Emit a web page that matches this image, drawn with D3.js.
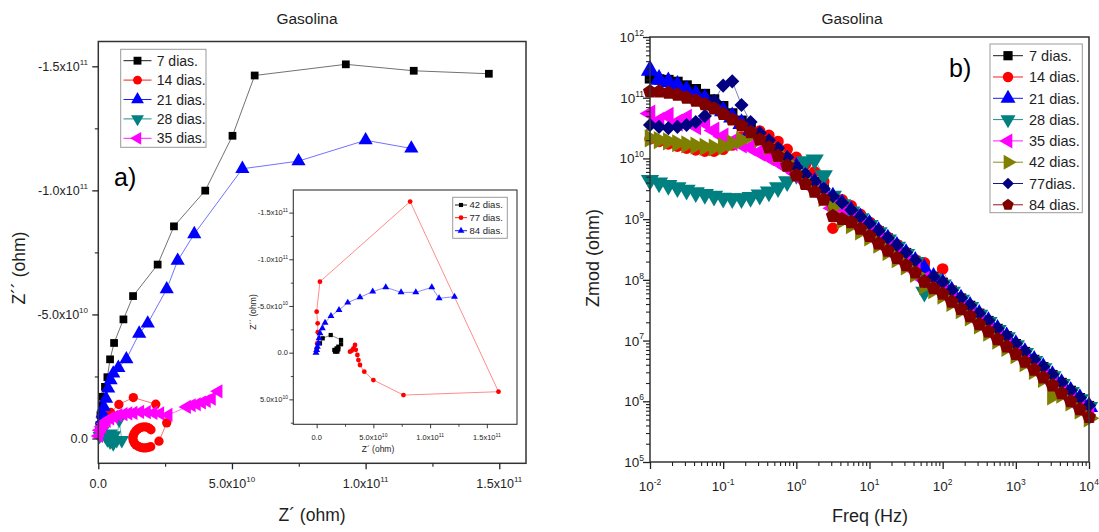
<!DOCTYPE html>
<html><head><meta charset="utf-8">
<script src="https://cdn.jsdelivr.net/npm/d3@7"></script>
<style>body{margin:0;background:#fff;} text{font-family:"Liberation Sans",Arial,sans-serif;}</style>
</head><body><svg id="c" width="1099" height="532"></svg>
<script>
// ---------- DATA: panel a) Nyquist (values in units of 1e10 ohm) ----------
const UNIT = 1e10;
const nyqNames = ["7 dias.", "14 dias.", "21 dias.", "28 dias.", "35 dias."];
const d7x  = [0.02,0.04,0.08,0.13,0.16,0.25,0.34,0.44,0.59,0.94,1.30,2.22,2.83,4.00,5.02,5.85,9.26,11.80,14.61];
const d7y  = [-0.20,-0.54,-0.94,-1.34,-1.68,-2.08,-2.47,-3.19,-3.85,-4.80,-5.74,-7.01,-8.55,-9.99,-12.20,-14.63,-15.08,-14.82,-14.70];
const d14x = [0.10,0.20,0.30,0.46,0.77,1.31,2.15,2.56,2.27,1.96,1.87,1.78,1.68,1.59,1.50,1.41,1.35,1.31,1.29,1.31,1.35,1.41,1.48,1.56,1.65,1.75,1.84,1.91,1.97];
const d14y = [-0.20,-0.45,-0.75,-1.05,-1.37,-1.65,-1.38,-0.63,0.11,0.33,0.36,0.38,0.38,0.36,0.32,0.26,0.18,0.09,-0.02,-0.12,-0.22,-0.31,-0.38,-0.43,-0.46,-0.47,-0.45,-0.41,-0.35];
const d21x = [0.09,0.10,0.13,0.16,0.21,0.29,0.37,0.46,0.56,0.75,1.05,1.53,1.85,2.56,2.97,3.59,5.39,7.49,10.00,11.71];
const d21y = [-0.20,-0.47,-0.74,-1.01,-1.27,-1.61,-2.02,-2.35,-2.62,-2.85,-3.20,-4.23,-4.64,-6.02,-7.17,-8.24,-10.87,-11.18,-12.02,-11.69];
const d28x = [0.05,0.15,0.25,0.34,0.44,0.56,0.46,0.59,0.69,0.78,0.88];
const d28y = [-0.10,-0.30,-0.13,0.04,0.13,0.20,-0.20,-0.13,0.07,-0.75,0.07];
const d35x = [0.02,0.06,0.13,0.21,0.31,0.44,0.59,0.75,0.94,1.12,1.31,1.56,1.81,2.06,2.31,2.62,3.31,3.49,3.68,3.87,4.05,4.24,4.49];
const d35y = [-0.10,-0.33,-0.47,-0.60,-0.71,-0.81,-0.87,-0.94,-0.98,-1.01,-1.03,-1.07,-1.06,-1.03,-1.01,-0.95,-1.27,-1.34,-1.38,-1.45,-1.52,-1.61,-1.90];

// inset (units of 1e10 ohm)
const insetNames = ["42 dias.", "77 dias.", "84 dias."];
const i42x = [0.00,0.29,0.53,1.24,2.15,2.15,1.91,1.76,1.56,1.62,1.82,1.91,1.70,1.80];
const i42y = [-0.29,-1.00,-1.54,-1.89,-1.36,-0.90,-0.64,-0.46,-0.29,-0.11,-0.11,-0.36,-0.30,-0.25];
const i77x = [0.05,0.10,0.09,0.00,0.29,8.24,16.03,7.65,5.00,4.20,3.82,3.68,3.59,3.45,3.38,3.24,3.09,2.94];
const i77y = [-1.00,-2.20,-3.14,-4.39,-7.60,-16.18,4.18,4.54,2.93,2.04,1.32,0.79,0.25,-0.30,-0.82,-0.46,-0.21,-0.11];
const i84x = [-0.06,0.00,0.06,0.15,0.21,0.29,0.50,0.74,1.26,1.97,2.74,3.82,4.94,6.09,7.44,8.74,10.15,10.79,12.15];
const i84y = [0.00,-0.29,-0.64,-1.00,-1.54,-2.07,-2.61,-3.21,-3.93,-4.57,-5.36,-5.93,-6.54,-7.00,-6.46,-6.46,-7.00,-5.82,-6.00];

// tick labels panel a)
const aXTicks = [0, 5e10, 1e11, 1.5e11];
const aXTickLabels = [["0.0",""],["5.0x10","10"],["1.0x10","11"],["1.5x10","11"]];
const aXMinor = [2.5e10, 7.5e10, 1.25e11];
const aYTicks = [0, -5e10, -1e11, -1.5e11];
const aYTickLabels = [["0.0",""],["-5.0x10","10"],["-1.0x10","11"],["-1.5x10","11"]];
const aYMinor = [-2.5e10, -7.5e10, -1.25e11];
const inXTicks = [0, 5e10, 1e11, 1.5e11];
const inXTickLabels = [["0.0",""],["5.0x10","10"],["1.0x10","11"],["1.5x10","11"]];
const inXMinor = [2.5e10, 7.5e10, 1.25e11];
const inYTicks = [5e10, 0, -5e10, -1e11, -1.5e11];
const inYTickLabels = [["5.0x10","10"],["0.0",""],["-5.0x10","10"],["-1.0x10","11"],["-1.5x10","11"]];
const inYMinor = [7.5e10, 2.5e10, -2.5e10, -7.5e10, -1.25e11];

// ---------- DATA: panel b) Bode |Z| (log10 of ohm) ----------
const freq = [0.01,0.0133,0.0178,0.0237,0.0316,0.0422,0.0562,0.075,
  0.1,0.133,0.178,0.237,0.316,0.422,0.562,0.75,
  1,1.33,1.78,2.37,3.16,4.22,5.62,7.5,
  10,13.3,17.8,23.7,31.6,42.2,56.2,75,
  100,133,178,237,316,422,562,750,
  1000,1330,1780,2370,3160,4220,5620,7500,10000];
const bodeNames = ["7 dias.","14 dias.","21 dias.","28 dias.","35 dias.","42 dias.","77dias.","84 dias."];
const z7  = [11.32,11.30,11.29,11.26,11.20,11.14,11.06,10.97,10.86,10.74,10.62,10.49,10.36,10.23,10.10,9.98,9.86,
  9.73,9.61,9.49,9.37,9.26,9.14,9.03,8.92, 8.80,8.68,8.56,8.44,8.31,8.19,8.05,7.95,
  7.82,7.69,7.57,7.44,7.32,7.19,7.07,6.94, 6.81,6.68,6.56,6.43,6.30,6.17,6.05,5.92];
const z14 = [10.32,10.28,10.24,10.20,10.17,10.14,10.12,10.12,10.15,10.22,10.35,10.45,10.45,10.38,10.28,10.15,10.02,
  9.90,9.78,9.62,8.85,9.32,9.22,9.08,8.95, 8.82,8.70,8.58,8.45,8.33,8.28,8.05,8.18,
  7.83,7.70,7.57,7.44,7.32,7.19,7.07,6.94, 6.81,6.68,6.56,6.43,6.30,6.17,6.05,5.92];
const z21 = [11.45,11.30,11.26,11.20,11.12,11.05,10.98,10.88,10.78,10.68,10.57,10.45,10.33,10.21,10.09,9.97,9.85,
  9.72,9.60,9.48,9.36,9.25,9.13,9.02,8.91, 8.79,8.67,8.55,8.43,8.30,8.18,8.04,7.94,
  7.81,7.68,7.56,7.43,7.31,7.18,7.06,6.93, 6.80,6.67,6.55,6.42,6.29,6.16,6.04,5.91];
const z28 = [9.64,9.60,9.56,9.52,9.48,9.44,9.41,9.38,9.35,9.34,9.34,9.36,9.40,9.45,9.52,9.62,9.74,
  9.95,9.98,9.72,9.38,9.24,9.12,9.01,8.90, 8.78,8.66,8.54,8.42,8.29,7.80,8.02,7.92,
  7.80,7.67,7.55,7.42,7.30,7.17,7.05,6.92, 6.79,6.66,6.54,6.41,6.28,6.15,6.03,5.90];
const z35 = [10.74,10.62,10.70,10.59,10.67,10.53,10.59,10.46,10.36,10.27,10.23,10.18,10.10,10.02,9.94,9.85,9.75,
  9.62,9.50,9.38,9.18,9.10,8.98,8.87,8.76, 8.64,8.52,8.40,8.28,8.15,8.00,7.92,7.82,
  7.69,7.57,7.45,7.32,7.20,7.07,6.95,6.83, 6.70,6.57,6.44,6.31,6.18,6.05,5.92,5.79];
const z42 = [10.33,10.30,10.28,10.25,10.23,10.21,10.19,10.18,10.20,10.25,10.30,10.38,10.32,10.20,10.07,9.93,9.78,
  9.64,9.50,9.35,9.20,8.98,8.90,8.80,8.70, 8.58,8.46,8.34,8.22,8.10,7.90,7.83,7.74,
  7.62,7.50,7.38,7.25,7.13,7.00,6.88,6.76, 6.63,6.50,6.37,6.08,6.11,5.98,5.85,5.72];
const z77 = [10.55,10.52,10.50,10.52,10.55,10.60,10.70,10.95,11.20,11.27,10.88,10.60,10.42,10.30,10.17,10.02,9.86,
  9.74,9.62,9.50,9.38,9.27,9.15,9.04,8.93, 8.81,8.69,8.57,8.45,8.32,7.98,8.05,7.96,
  7.83,7.70,7.58,7.45,7.33,7.20,7.08,6.95, 6.82,6.69,6.57,6.44,6.31,6.18,6.06,5.93];
const z84 = [11.10,11.10,11.08,11.05,11.00,10.95,10.89,10.82,10.73,10.64,10.54,10.43,10.31,10.18,10.04,9.88,9.72,
  9.58,9.45,9.32,9.05,9.00,8.95,8.84,8.72, 8.60,8.48,8.36,8.24,8.12,7.97,7.86,7.77,
  7.64,7.52,7.40,7.27,7.15,7.02,6.90,6.78, 6.65,6.52,6.39,6.26,6.13,6.00,5.87,5.74];
const bXTicks = [0.01,0.1,1,10,100,1000,10000];
const bXTickLabels = [["10","-2"],["10","-1"],["10","0"],["10","1"],["10","2"],["10","3"],["10","4"]];
const bYTicks = [1e5,1e6,1e7,1e8,1e9,1e10,1e11,1e12];
const bYTickLabels = [["10","5"],["10","6"],["10","7"],["10","8"],["10","9"],["10","10"],["10","11"],["10","12"]];

// ---------- helpers ----------
const svg = d3.select("#c");
svg.append("rect").attr("width",1099).attr("height",532).attr("fill","#fff");
const TXT = "#1e1e1e";
const pentagon = { draw(ctx, size){ const r=Math.sqrt(size/2.378);
  for(let i=0;i<5;i++){const a=-Math.PI/2+i*2*Math.PI/5; const px=r*Math.cos(a), py=r*Math.sin(a); if(i===0) ctx.moveTo(px,py); else ctx.lineTo(px,py);} ctx.closePath(); } };
const SYM = {
  square:{t:d3.symbolSquare,r:0,k:1}, circle:{t:d3.symbolCircle,r:0,k:1},
  up:{t:d3.symbolTriangle,r:0,k:1.15}, down:{t:d3.symbolTriangle,r:180,k:1.15},
  left:{t:d3.symbolTriangle,r:-90,k:1.15}, right:{t:d3.symbolTriangle,r:90,k:1.15},
  diamond:{t:d3.symbolSquare,r:45,k:0.8}, pent:{t:pentagon,r:0,k:1}
};
function sym(g, kind, x, y, size, color){
  const s = SYM[kind];
  g.append("path").attr("d", d3.symbol(s.t, size*s.k)())
    .attr("transform",`translate(${x},${y}) rotate(${s.r})`).attr("fill",color);
}
function series(g, pts, color, kind, size, lw, op){
  g.append("path").attr("d", d3.line()(pts)).attr("fill","none")
    .attr("stroke",color).attr("stroke-width",lw).attr("stroke-opacity",op);
  pts.forEach(p=>sym(g, kind, p[0], p[1], size, color));
}
function sciText(g, x, y, lab, anchor, fs, sfs){
  const t = g.append("text").attr("x",x).attr("y",y).attr("text-anchor",anchor)
    .attr("font-size",fs).attr("fill",TXT);
  t.append("tspan").text(lab[0]);
  if (lab[1]) t.append("tspan").attr("dy",-fs*0.45).attr("font-size",sfs).text(lab[1]);
}
function styleAxis(sel, w){ sel.select(".domain").remove(); sel.selectAll("line").attr("stroke","#222").attr("stroke-width",w); }
function legend(g, x0, y0, w, h, names, colors, kinds, rows, lineX0, lineX1, textX, fs, msize){
  g.append("rect").attr("x",x0).attr("y",y0).attr("width",w).attr("height",h)
    .attr("fill","#fff").attr("stroke","#9a9a9a").attr("stroke-width",1);
  names.forEach((n,i)=>{
    const yy = rows[i];
    g.append("line").attr("x1",lineX0).attr("x2",lineX1).attr("y1",yy).attr("y2",yy)
      .attr("stroke",colors[i]).attr("stroke-width",0.9);
    sym(g, kinds[i], (lineX0+lineX1)/2, yy, msize, colors[i]);
    g.append("text").attr("x",textX).attr("y",yy+fs*0.36).attr("font-size",fs).attr("fill",TXT).text(n);
  });
}

// ================= Panel a) =================
const ga = svg.append("g");
const xA = d3.scaleLinear().domain([0,1.6e11]).range([98.3,526]);
const yA = d3.scaleLinear().domain([1e10,-1.6e11]).range([463.3,41.5]);
const aColors = ["#000000","#ff0000","#0000ff","#008080","#ff00ff"];
const aKinds = ["square","circle","up","down","left"];
const aData = [[d7x,d7y],[d14x,d14y],[d21x,d21y],[d28x,d28y],[d35x,d35y]];
const aSizes = [60,68,76,76,76];
aData.forEach((d,i)=>{
  const pts = d[0].map((v,j)=>[xA(v*UNIT), yA(d[1][j]*UNIT)]);
  series(ga, pts, aColors[i], aKinds[i], aSizes[i], 0.8, 0.7);
});
ga.append("rect").attr("x",98.3).attr("y",41.5).attr("width",526-98.3).attr("height",463.3-41.5)
  .attr("fill","none").attr("stroke","#333").attr("stroke-width",1.5);
styleAxis(ga.append("g").attr("transform","translate(0,463.3)").call(d3.axisBottom(xA).tickValues(aXTicks).tickSize(6).tickFormat("")),1.3);
styleAxis(ga.append("g").attr("transform","translate(0,463.3)").call(d3.axisBottom(xA).tickValues(aXMinor).tickSize(3.5).tickFormat("")),1.1);
styleAxis(ga.append("g").attr("transform","translate(98.3,0)").call(d3.axisLeft(yA).tickValues(aYTicks).tickSize(6).tickFormat("")),1.3);
styleAxis(ga.append("g").attr("transform","translate(98.3,0)").call(d3.axisLeft(yA).tickValues(aYMinor).tickSize(3.5).tickFormat("")),1.1);
aXTicks.forEach((v,i)=>sciText(ga, xA(v), 488, aXTickLabels[i], "middle", 12.5, 8));
aYTicks.forEach((v,i)=>sciText(ga, 88, yA(v)+4.5, aYTickLabels[i], "end", 12.5, 8));
ga.append("text").attr("x",307).attr("y",24).attr("text-anchor","middle").attr("font-size",15.5).attr("fill",TXT).text("Gasolina");
ga.append("text").attr("x",312).attr("y",521).attr("text-anchor","middle").attr("font-size",17.5).attr("fill",TXT).text("Z´ (ohm)");
ga.append("text").attr("transform","translate(25,268) rotate(-90)").attr("text-anchor","middle").attr("font-size",17.5).attr("fill",TXT).text("Z´´ (ohm)");
ga.append("text").attr("x",114).attr("y",186).attr("font-size",25).attr("fill","#000").text("a)");
legend(ga, 120.7, 49.3, 85.3, 98, nyqNames, aColors, aKinds, [60.7,80.1,99.5,118.9,138.3], 123.5, 151.5, 156.7, 14, 62);

// ---- inset ----
const gi = ga.append("g");
const xI = d3.scaleLinear().domain([-2.06e10,1.766e11]).range([293.3,517]);
const yI = d3.scaleLinear().domain([7.67e10,-1.742e11]).range([424.3,190]);
gi.append("rect").attr("x",293.3).attr("y",190).attr("width",517-293.3).attr("height",424.3-190)
  .attr("fill","#fff").attr("stroke","#333").attr("stroke-width",1.1);
const iColors = ["#000000","#ff0000","#0000ff"];
const iKinds = ["square","circle","up"];
const iData = [[i42x,i42y],[i77x,i77y],[i84x,i84y]];
iData.forEach((d,i)=>{
  const pts = d[0].map((v,j)=>[xI(v*UNIT), yI(d[1][j]*UNIT)]);
  series(gi, pts, iColors[i], iKinds[i], 18, 0.7, 0.65);
});
styleAxis(gi.append("g").attr("transform","translate(0,424.3)").call(d3.axisBottom(xI).tickValues(inXTicks).tickSize(4).tickFormat("")),0.9);
styleAxis(gi.append("g").attr("transform","translate(0,424.3)").call(d3.axisBottom(xI).tickValues(inXMinor).tickSize(2.5).tickFormat("")),0.8);
styleAxis(gi.append("g").attr("transform","translate(293.3,0)").call(d3.axisLeft(yI).tickValues(inYTicks).tickSize(4).tickFormat("")),0.9);
styleAxis(gi.append("g").attr("transform","translate(293.3,0)").call(d3.axisLeft(yI).tickValues(inYMinor).tickSize(2.5).tickFormat("")),0.8);
inXTicks.forEach((v,i)=>sciText(gi, xI(v), 440, inXTickLabels[i], "middle", 7.5, 5));
inYTicks.forEach((v,i)=>sciText(gi, 288, yI(v)+2.6, inYTickLabels[i], "end", 7.5, 5));
gi.append("text").attr("x",378).attr("y",452).attr("text-anchor","middle").attr("font-size",8.5).attr("fill",TXT).text("Z´ (ohm)");
gi.append("text").attr("transform","translate(256,312) rotate(-90)").attr("text-anchor","middle").attr("font-size",8.5).attr("fill",TXT).text("Z´´ (ohm)");
legend(gi, 452.7, 197.3, 54.6, 41, insetNames, iColors, iKinds, [205,217.7,230.7], 455, 467, 469.5, 9.5, 17);

// ================= Panel b) =================
const gb = svg.append("g");
const xB = d3.scaleLog().domain([0.01,1e4]).range([650,1089]);
const yB = d3.scaleLog().domain([1e5,1e12]).range([462,37]);
const bColors = ["#000000","#ff0000","#0000ff","#008080","#ff00ff","#808000","#000080","#800000"];
const bKinds = ["square","circle","up","down","left","right","diamond","pent"];
const bData = [z7,z14,z21,z28,z35,z42,z77,z84];
const bSizes = [110,105,125,125,125,125,125,130];
bData.forEach((arr,i)=>{
  const pts = arr.map((v,j)=>[xB(freq[j]), yB(Math.pow(10,v))]);
  series(gb, pts, bColors[i], bKinds[i], bSizes[i], 0.7, 0.7);
});
gb.append("rect").attr("x",650).attr("y",37).attr("width",1089-650).attr("height",462-37)
  .attr("fill","none").attr("stroke","#333").attr("stroke-width",1.5);
const bXMinor = [], bYMinor = [];
for (let e=-2;e<4;e++) for (let m=2;m<10;m++) bXMinor.push(m*Math.pow(10,e));
for (let e=5;e<12;e++) for (let m=2;m<10;m++) bYMinor.push(m*Math.pow(10,e));
styleAxis(gb.append("g").attr("transform","translate(0,462)").call(d3.axisBottom(xB).tickValues(bXTicks).tickSize(7).tickFormat("")),1.3);
styleAxis(gb.append("g").attr("transform","translate(0,462)").call(d3.axisBottom(xB).tickValues(bXMinor).tickSize(4).tickFormat("")),1.1);
styleAxis(gb.append("g").attr("transform","translate(650,0)").call(d3.axisLeft(yB).tickValues(bYTicks).tickSize(7).tickFormat("")),1.3);
styleAxis(gb.append("g").attr("transform","translate(650,0)").call(d3.axisLeft(yB).tickValues(bYMinor).tickSize(4).tickFormat("")),1.1);
bXTicks.forEach((v,i)=>sciText(gb, xB(v), 491, bXTickLabels[i], "middle", 13.5, 8.5));
bYTicks.forEach((v,i)=>sciText(gb, 644, yB(v)+5, bYTickLabels[i], "end", 13.5, 8.5));
gb.append("text").attr("x",852).attr("y",24).attr("text-anchor","middle").attr("font-size",15.5).attr("fill",TXT).text("Gasolina");
gb.append("text").attr("x",870).attr("y",522).attr("text-anchor","middle").attr("font-size",18).attr("fill",TXT).text("Freq (Hz)");
gb.append("text").attr("transform","translate(599,258) rotate(-90)").attr("text-anchor","middle").attr("font-size",18).attr("fill",TXT).text("Zmod (ohm)");
gb.append("text").attr("x",949).attr("y",77).attr("font-size",25).attr("fill","#000").text("b)");
const bRows = []; for (let i=0;i<8;i++) bRows.push(55.7+i*21.3);
legend(gb, 990, 44, 92.3, 168.7, bodeNames, bColors, bKinds, bRows, 993, 1023, 1029, 14.5, 85);
</script></body></html>
